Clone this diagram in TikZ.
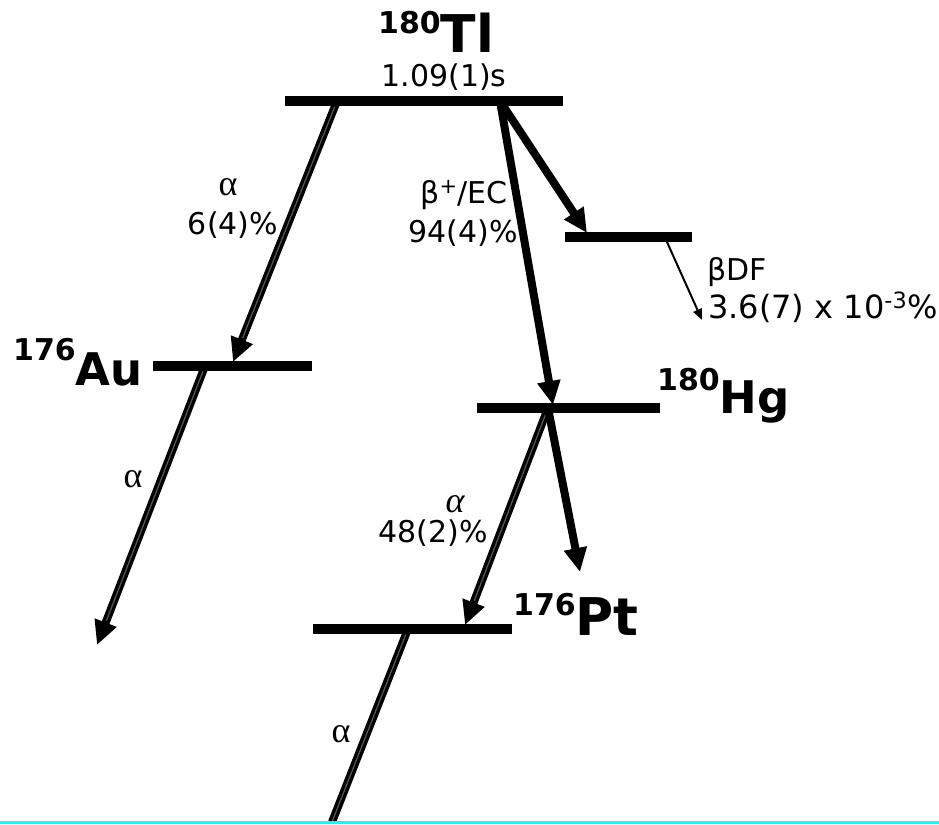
\documentclass[tikz,border=0pt]{standalone}
\usepackage{fontspec}
\setmainfont{DejaVu Sans}
\newfontfamily\greekserif{Liberation Serif}
\usetikzlibrary{arrows.meta}
\definecolor{rulecyan}{RGB}{0,255,255}

\newcommand{\txt}{\fontsize{30}{34}\selectfont}
\newcommand{\alp}{{\greekserif\fontsize{36}{36}\selectfont α}}
\newcommand{\nuc}[4]{{\bfseries\fontsize{30}{30}\selectfont\raisebox{#3pt}{#1}\fontsize{#4}{#4}\selectfont #2}}

\begin{document}
\begin{tikzpicture}[x=1pt,y=-1pt,
  level/.style={line width=10pt},
  decay/.style={line width=8pt,-{Triangle[length=24pt,width=22pt]}},
  alphadecay/.style={decay,postaction={draw=black!65,line width=1.2pt,-,shorten >=26pt,shorten <=6pt}},
  alphatail/.style={line width=8pt,postaction={draw=black!65,line width=1.2pt,shorten <=6pt}},
  fission/.style={line width=2pt,-{Triangle[length=11pt,width=9pt]}},
  lbl/.style={inner sep=0pt,anchor=base,font=\txt},
  iso/.style={inner sep=0pt,anchor=base west}]

\useasboundingbox (0,0) rectangle (939,824);

% energy levels
\coordinate (tlL) at (285,101);  \coordinate (tlR) at (563,101);
\coordinate (mdL) at (565,237);  \coordinate (mdR) at (692,237);
\coordinate (auL) at (153,366);  \coordinate (auR) at (312,366);
\coordinate (hgL) at (477,408);  \coordinate (hgR) at (660,408);
\coordinate (ptL) at (313,629);  \coordinate (ptR) at (512,629);
\draw[level] (tlL) -- (tlR);
\draw[level] (mdL) -- (mdR);
\draw[level] (auL) -- (auR);
\draw[level] (hgL) -- (hgR);
\draw[level] (ptL) -- (ptR);

% start and end points of the transitions
\coordinate (tlA) at (337,101);
\coordinate (tlB) at (500,101);
\coordinate (auTop) at (233,362);
\coordinate (auBot) at (205,366);
\coordinate (auOut) at (97,645);
\coordinate (hgTop) at (553,405);
\coordinate (hgBot) at (548,408);
\coordinate (mdTop) at (587,233);
\coordinate (mdBot) at (667,242);
\coordinate (dfOut) at (702,320);
\coordinate (ptTop) at (465,625);
\coordinate (hgOut) at (580,572);
\coordinate (ptBot) at (408,629);
\coordinate (ptOut) at (332,822);

% transitions
\draw[alphadecay] (tlA) -- (auTop);
\draw[alphadecay] (auBot) -- (auOut);
\draw[decay] (tlB) -- (hgTop);
\draw[decay] (tlB) -- (mdTop);
\draw[fission] (mdBot) -- (dfOut);
\draw[alphadecay] (hgBot) -- (ptTop);
\draw[decay] (hgBot) -- (hgOut);
\draw[alphatail] (ptBot) -- (ptOut);

% bottom rule
\coordinate (ruleL) at (0,822); \coordinate (ruleR) at (939,822);
\draw[rulecyan,line width=3pt] (ruleL) -- (ruleR);

% nuclide names
\node[iso] (tl) at (378,53) {\nuc{180}{Tl}{19}{52}};
\node[iso] (au) at (13,385) {\nuc{176}{Au}{25}{45}};
\node[iso] (hg) at (657,413) {\nuc{180}{Hg}{23}{45}};
\node[iso] (pt) at (513,635) {\nuc{176}{Pt}{20}{52}};

% half-life and branching labels
\node[lbl] (hl) at (444,87) {1.09(1)s};
\node[lbl] (a1) at (228,195) {\alp};
\node[lbl] (a1b) at (233,234) {6(4)\%};
\node[lbl] (bp) at (464,203) {β\textsuperscript{+}/EC};
\node[lbl] (bpb) at (463,242) {94(4)\%};
\node[lbl,anchor=base west] (df) at (707,280) {βDF};
\node[inner sep=0pt,anchor=base west,font=\fontsize{32}{34}\selectfont] (dfb) at (708,318) {3.6(7) x 10\textsuperscript{-3}\%};
\node[lbl] (a2) at (133,487) {\alp};
\node[lbl] (a3) at (455,512) {{\greekserif\itshape\fontsize{36}{36}\selectfont α}};
\node[lbl] (a3b) at (433,542) {48(2)\%};
\node[lbl] (a4) at (341,742) {\alp};

\end{tikzpicture}
\end{document}
